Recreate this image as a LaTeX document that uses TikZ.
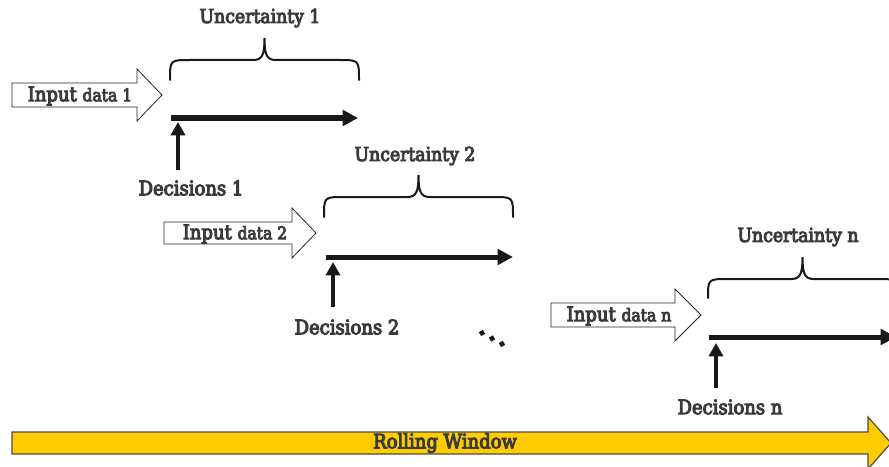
\documentclass[tikz,border=0pt]{standalone}
\usepackage{fontspec}
\setmainfont{DejaVu Serif Condensed}
\newfontfamily\lblfont[FakeBold=5]{DejaVu Serif Condensed}
\usetikzlibrary{arrows.meta}
\definecolor{txt}{HTML}{3A3A3A}
\definecolor{rollfill}{HTML}{FFCC00}
\tikzset{
  lbl/.style={text=txt, inner sep=0pt, font=\lblfont\fontsize{15}{17}\selectfont},
  ulbl/.style={text=txt, inner sep=0pt, font=\lblfont\fontsize{14.4}{17}\selectfont},
  inlbl/.style={text=txt, inner sep=0pt, font=\lblfont\fontsize{15}{17}\selectfont},
  hollowarrow/.style={draw=black!85, line width=0.6pt, fill=white},
  bracestyle/.style={draw=black!90, line width=1.5pt, line cap=round},
  timeline/.style={draw=black!90, line width=3.75pt, -{Triangle[length=11.5pt,width=11.5pt]}},
  decarrow/.style={draw=black!90, line width=3.6pt, -{Triangle[length=10pt,width=10.5pt]}},
  dot/.style={fill=black!90},
}
\newcommand{\mybrace}[4]{% left x, right x, bottom y, top y
  \pgfmathsetmacro{\xc}{(#1+#2)/2}
  \draw[bracestyle] (#1,#3) .. controls (#1,#4) and (#1,#4) .. (#1+20,#4)
     -- (\xc-11,#4) .. controls (\xc-2,#4) and (\xc,#4-6) .. (\xc,#4-22)
     .. controls (\xc,#4-6) and (\xc+2,#4) .. (\xc+11,#4)
     -- (#2-20,#4) .. controls (#2,#4) and (#2,#4) .. (#2,#3);
}
\newcommand{\hollowarr}[6]{% left x, head x, tip x, center y, body half, head half
  \draw[hollowarrow] (#1,#4-#5) -- (#2,#4-#5) -- (#2,#4-#6) -- (#3,#4)
     -- (#2,#4+#6) -- (#2,#4+#5) -- (#1,#4+#5) -- cycle;
}
\newcommand{\sqdot}[2]{\fill[dot, rotate around={30:(#1,#2)}] (#1-2.3,#2-2.3) rectangle (#1+2.3,#2+2.3);}
\begin{document}
\begin{tikzpicture}[x=0.75pt,y=-0.75pt]
\useasboundingbox (0,0) rectangle (889,467);

% Rolling window
\draw[draw=black!70, line width=0.9pt, fill=rollfill]
  (12,432) -- (868,432) -- (868,417) -- (891,443) -- (868,469) -- (868,454) -- (12,454) -- cycle;
\node[lbl] (roll) at (445,443) {Rolling Window};

% Stage 1
\hollowarr{12}{137}{162}{95}{12}{26}
\node[inlbl] (in1) at (80,96) {Input {\fontsize{13}{15}\selectfont data 1}};
\mybrace{170}{359}{80}{60}
\node[ulbl] (u1) at (260,18) {Uncertainty 1};
\coordinate (t1s) at (171,118);
\coordinate (t1e) at (358,118);
\draw[timeline] (t1s) -- (t1e);
\coordinate (d1s) at (178,170);
\coordinate (d1e) at (178,122);
\draw[decarrow] (d1s) -- (d1e);
\node[lbl] (dec1) at (191,188) {Decisions 1};

% Stage 2
\hollowarr{164}{292}{316}{233}{11}{25}
\node[inlbl] (in2) at (235,234) {Input {\fontsize{13}{15}\selectfont data 2}};
\mybrace{324}{513}{217}{197}
\node[ulbl] (u2) at (415,156) {Uncertainty 2};
\coordinate (t2s) at (326,257);
\coordinate (t2e) at (513,257);
\draw[timeline] (t2s) -- (t2e);
\coordinate (d2s) at (333,307);
\coordinate (d2e) at (333,262);
\draw[decarrow] (d2s) -- (d2e);
\node[lbl] (dec2) at (347,327) {Decisions 2};

% dots
\sqdot{482}{333}
\sqdot{492}{338.5}
\sqdot{502}{344}

% Stage n
\hollowarr{551}{675}{701}{315}{12}{26}
\node[inlbl] (inn) at (619,316) {Input {\fontsize{13}{15}\selectfont data n}};
\mybrace{708}{897}{298}{279}
\node[ulbl] (un) at (798,237) {Uncertainty n};
\coordinate (tns) at (709,337);
\coordinate (tne) at (896,337);
\draw[timeline] (tns) -- (tne);
\coordinate (dns) at (716,388);
\coordinate (dne) at (716,343);
\draw[decarrow] (dns) -- (dne);
\node[lbl] (decn) at (730,407) {Decisions n};
\end{tikzpicture}
\end{document}
